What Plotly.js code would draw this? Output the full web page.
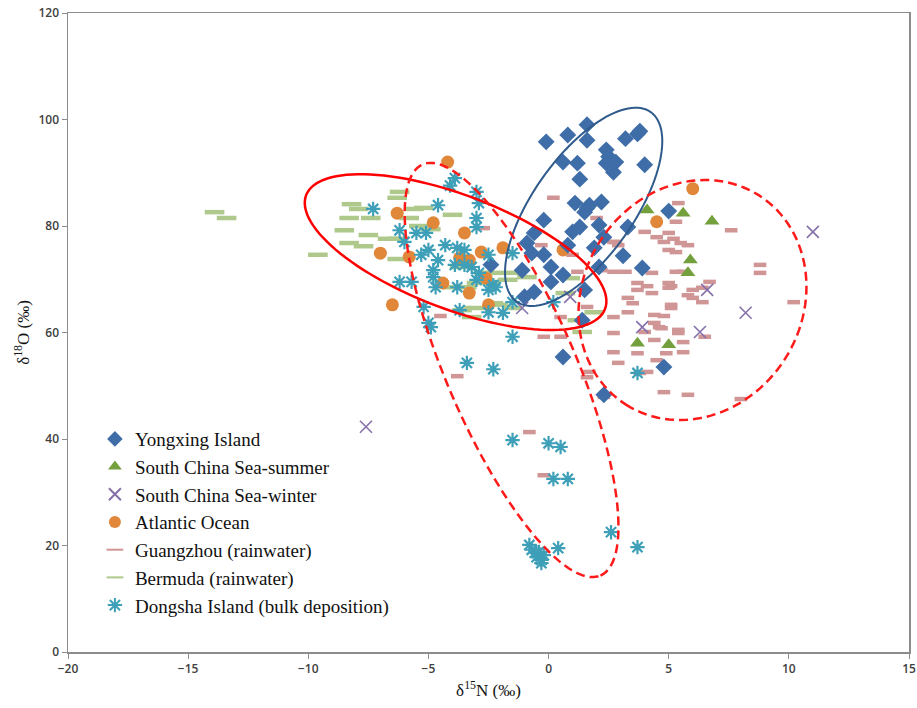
<!DOCTYPE html>
<html>
<head>
<meta charset="utf-8">
<script src="https://cdn.plot.ly/plotly-3.0.1.min.js"></script>
<style>html,body{margin:0;padding:0;background:#fff;}#chart{width:917px;height:708px;}</style>
</head>
<body>
<div id="chart"></div>
<script>
// ---- data (δ15N, δ18O in ‰) ----
const yongxingX = [1.6,0.8,-0.1,1.6,3.2,3.7,3.8,2.4,0.6,1.2,2.5,2.8,2.4,4.0,2.7,1.3,1.1,1.6,1.7,2.2,1.5,-0.2,1.3,2.1,1.0,3.3,-0.6,2.3,-0.9,0.8,-0.7,-0.2,3.1,0.1,2.1,3.9,1.9,0.6,-1.1,0.1,-0.6,-1.0,1.5,1.4,0.6,2.3,4.8,5.0,-2.4];
const yongxingY = [99.0,97.1,95.8,96.1,96.4,97.3,97.8,94.3,92.0,91.8,93.0,92.0,91.8,91.5,90.1,88.8,84.3,83.4,83.9,84.5,82.6,81.1,79.8,80.2,78.9,79.8,78.7,77.9,76.8,76.4,74.9,74.6,74.4,72.3,72.3,72.1,75.9,70.8,71.7,69.5,67.6,66.7,68.0,62.3,55.4,48.3,53.5,82.8,72.7];

const scsSummerX = [4.1,5.6,6.8,5.9,5.8,3.7,5.0];
const scsSummerY = [83.0,82.4,80.9,73.6,71.2,58.0,57.7];

const scsWinterX = [11.0,8.2,6.6,6.3,3.9,-7.6,-1.1,0.9];
const scsWinterY = [78.9,63.7,68.0,60.1,61.0,42.3,64.6,66.7];

const atlanticX = [6.0,-4.2,4.5,0.6,-6.3,-4.8,-3.5,-7.0,-5.8,-2.8,-3.7,-3.3,-1.9,-4.4,-2.6,-3.3,-6.5,-2.5];
const atlanticY = [87.0,92.0,80.8,75.5,82.4,80.6,78.7,74.9,74.2,75.1,74.0,73.6,75.9,69.3,70.2,67.4,65.2,65.2];

const guangzhouX = [5.4,5.3,4.0,5.0,4.5,4.8,5.2,5.5,5.8,5.0,5.3,7.6,2.7,2.9,4.3,5.3,5.6,2.7,3.2,8.8,8.8,6.7,3.7,4.1,5.0,5.1,3.7,5.0,6.0,6.4,4.3,5.8,3.3,3.5,5.1,5.1,6.0,6.4,10.2,1.6,0.5,2.7,3.3,4.4,4.8,2.7,4.4,4.6,4.7,5.4,5.4,4.0,4.4,5.6,6.5,-0.2,0.5,2.7,3.7,4.9,5.6,2.9,4.5,3.8,4.1,1.6,4.8,5.8,8.0,2.3,2.2,1.2,-2.7,-4.5,-3.8,-0.8,-0.2,1.7,0.2,2.0,2.8,-0.3,1.0];
const guangzhouY = [84.3,80.8,78.9,78.7,77.9,77.0,77.6,76.8,76.4,75.5,75.1,79.2,77.0,76.4,71.2,71.4,71.4,71.4,71.4,72.7,71.2,69.5,69.3,68.7,69.3,68.7,68.0,68.4,68.0,68.4,67.4,67.0,66.5,65.5,65.2,64.6,66.5,65.7,65.7,64.8,62.9,62.9,63.8,63.3,63.1,59.9,61.8,61.0,60.8,60.5,59.9,60.1,58.6,58.2,59.2,59.2,59.2,56.3,56.1,56.1,56.3,54.3,54.8,52.4,52.6,51.6,48.8,48.3,47.5,47.9,71.7,71.4,79.6,63.1,51.8,41.3,33.2,52.6,85.3,81.5,77.0,76.4,74.6];

const bermudaX = [-13.9,-13.4,-9.6,-8.2,-7.9,-8.3,-7.4,-8.5,-7.5,-8.3,-7.7,-6.7,-6.2,-6.3,-5.6,-5.2,-5.8,-4.0,-5.4,-4.9,-6.3,-6.3,-3.7,-2.3,-3.4,-4.0,-3.1,-3.2,-2.3,-2.7,-2.4,-3.0,-2.1,-1.5,-0.9,-1.7,0.9,0.7,1.2,1.4,-1.5,1.9,-3.6];
const bermudaY = [82.6,81.5,74.6,84.1,83.2,81.5,81.5,79.2,78.3,76.8,76.2,77.6,86.4,85.3,83.2,83.4,81.5,82.1,80.0,79.4,77.6,73.8,72.3,71.2,68.5,68.5,64.6,62.9,65.5,71.2,69.5,69.3,65.2,71.2,70.4,69.9,70.2,67.4,62.3,60.1,64.6,63.8,64.2];

const dongshaX = [-3.9,-4.1,-3.0,-2.9,-7.3,-4.6,-3.0,-3.0,-6.2,-5.5,-5.1,-6.0,-4.3,-3.8,-3.5,-5.0,-5.3,-4.6,-3.9,-3.2,-4.8,-4.8,-2.9,-6.2,-5.7,-4.7,-3.8,-2.2,-3.0,-5.2,-3.7,-2.5,-1.9,-5.0,-4.9,-2.5,-3.5,-2.3,-2.5,-1.5,0.2,-1.5,-1.5,3.7,-3.4,-2.3,-1.5,0.0,0.5,0.2,0.8,2.6,3.7,0.4,-0.8,-0.5,-0.3,-0.5,-0.3,-0.7,-0.4,-0.2];
const dongshaY = [89.0,87.6,86.4,84.3,83.2,83.9,81.5,79.8,79.2,78.7,78.7,77.0,76.4,75.9,75.5,75.5,74.6,73.6,72.7,72.3,71.7,70.4,71.2,69.5,69.5,68.5,68.5,68.5,69.9,64.8,64.2,63.8,63.7,61.8,61.0,74.6,72.7,68.9,68.0,74.9,65.7,59.2,65.7,52.4,54.3,53.1,39.8,39.2,38.5,32.5,32.5,22.5,19.7,19.5,20.1,18.6,17.3,17.8,16.7,19.2,18.8,18.2];

const seriesNames = ["Yongxing Island","South China Sea-summer","South China Sea-winter","Atlantic Ocean","Guangzhou (rainwater)","Bermuda (rainwater)","Dongsha Island (bulk deposition)"];

// ellipse annotations: centre and two semi-axis vectors, data units
const ellipseCentres = [[1.46,83.6],[-3.87,75.1],[-1.54,52.96],[5.99,66.1]];
const ellipseAxisA = [[2.79,17.8],[6.22,-10.67],[3.70,-38.6],[-2.77,-19.64]];
const ellipseAxisB = [[1.71,-5.45],[-0.84,-10.01],[2.47,4.83],[3.85,-11.06]];

function ellipsePath(c,a,b){
  const n=120; let p='';
  for(let i=0;i<=n;i++){
    const t=2*Math.PI*i/n;
    const x=c[0]+a[0]*Math.cos(t)+b[0]*Math.sin(t);
    const y=c[1]+a[1]*Math.cos(t)+b[1]*Math.sin(t);
    p+=(i===0?'M':'L')+x.toFixed(4)+','+y.toFixed(4);
  }
  return p+'Z';
}
const ellipseStyles = [
  {color:'#2F5A8C',width:2,dash:'solid'},
  {color:'#FF0000',width:2.5,dash:'solid'},
  {color:'#FF1A1A',width:2.5,dash:'9px,5px'},
  {color:'#FF1A1A',width:2.5,dash:'9px,5px'}
];
const shapes = ellipseCentres.map((c,i)=>({
  type:'path', xref:'x', yref:'y', path:ellipsePath(c,ellipseAxisA[i],ellipseAxisB[i]),
  line:ellipseStyles[i], fillcolor:'rgba(0,0,0,0)', layer:'above'
}));

const traces = [
  {x:guangzhouX,y:guangzhouY,name:seriesNames[4],legendrank:5,type:'scatter',mode:'markers',
   marker:{symbol:'line-ew',size:9,color:'#D09595',line:{color:'#D09595',width:4.5}}},
  {x:bermudaX,y:bermudaY,name:seriesNames[5],legendrank:6,type:'scatter',mode:'markers',
   marker:{symbol:'line-ew',size:14,color:'#AFC98C',line:{color:'#AFC98C',width:4.5}}},
  {x:atlanticX,y:atlanticY,name:seriesNames[3],legendrank:4,type:'scatter',mode:'markers',
   marker:{symbol:'circle',size:13,color:'#E0873A'}},
  {x:yongxingX,y:yongxingY,name:seriesNames[0],legendrank:1,type:'scatter',mode:'markers',
   marker:{symbol:'diamond',size:13,color:'#3E6DA8'}},
  {x:scsSummerX,y:scsSummerY,name:seriesNames[1],legendrank:2,type:'scatter',mode:'markers',
   marker:{symbol:'triangle-up',size:13,color:'#73A03C'}},
  {x:scsWinterX,y:scsWinterY,name:seriesNames[2],legendrank:3,type:'scatter',mode:'markers',
   marker:{symbol:'x-thin-open',size:12,color:'#8670AA',line:{color:'#8670AA',width:1.6}}},
  {x:dongshaX,y:dongshaY,name:seriesNames[6],legendrank:7,type:'scatter',mode:'markers',
   marker:{symbol:'asterisk-open',size:12,color:'#3E9FB8',line:{color:'#3E9FB8',width:2.2}}}
];

const tickFont = {family:'"Open Sans", "Liberation Sans", sans-serif', size:12, color:'#404040', weight:600};
const titleFont = {family:'"Liberation Serif", "DejaVu Serif", serif', size:17, color:'#111'};

const layout = {
  width:917, height:708,
  margin:{l:68,r:8,t:13,b:56},
  paper_bgcolor:'#fff', plot_bgcolor:'#fff',
  showlegend:true,
  legend:{x:0.032,y:0.363,xanchor:'left',yanchor:'top',bgcolor:'rgba(0,0,0,0)',
          font:{family:'"Liberation Serif", serif',size:19,color:'#111'},
          tracegroupgap:0, itemsizing:'constant', traceorder:'normal'},
  xaxis:{range:[-20,15],dtick:5,tick0:-20,showgrid:false,zeroline:false,showline:true,mirror:true,
         linecolor:'#8C8C8C',linewidth:1.5,ticks:'outside',ticklen:5,tickcolor:'#8C8C8C',
         tickfont:tickFont,title:{text:'δ<sup>15</sup>N (‰)',font:titleFont,standoff:8}},
  yaxis:{range:[0,120],dtick:20,showgrid:false,zeroline:false,showline:true,mirror:true,
         linecolor:'#8C8C8C',linewidth:1.5,ticks:'outside',ticklen:5,tickcolor:'#8C8C8C',
         tickfont:tickFont,title:{text:'δ<sup>18</sup>O (‰)',font:titleFont,standoff:4}},
  shapes:shapes
};

Plotly.newPlot('chart',traces,layout,{displayModeBar:false,staticPlot:true});
</script>
</body>
</html>
